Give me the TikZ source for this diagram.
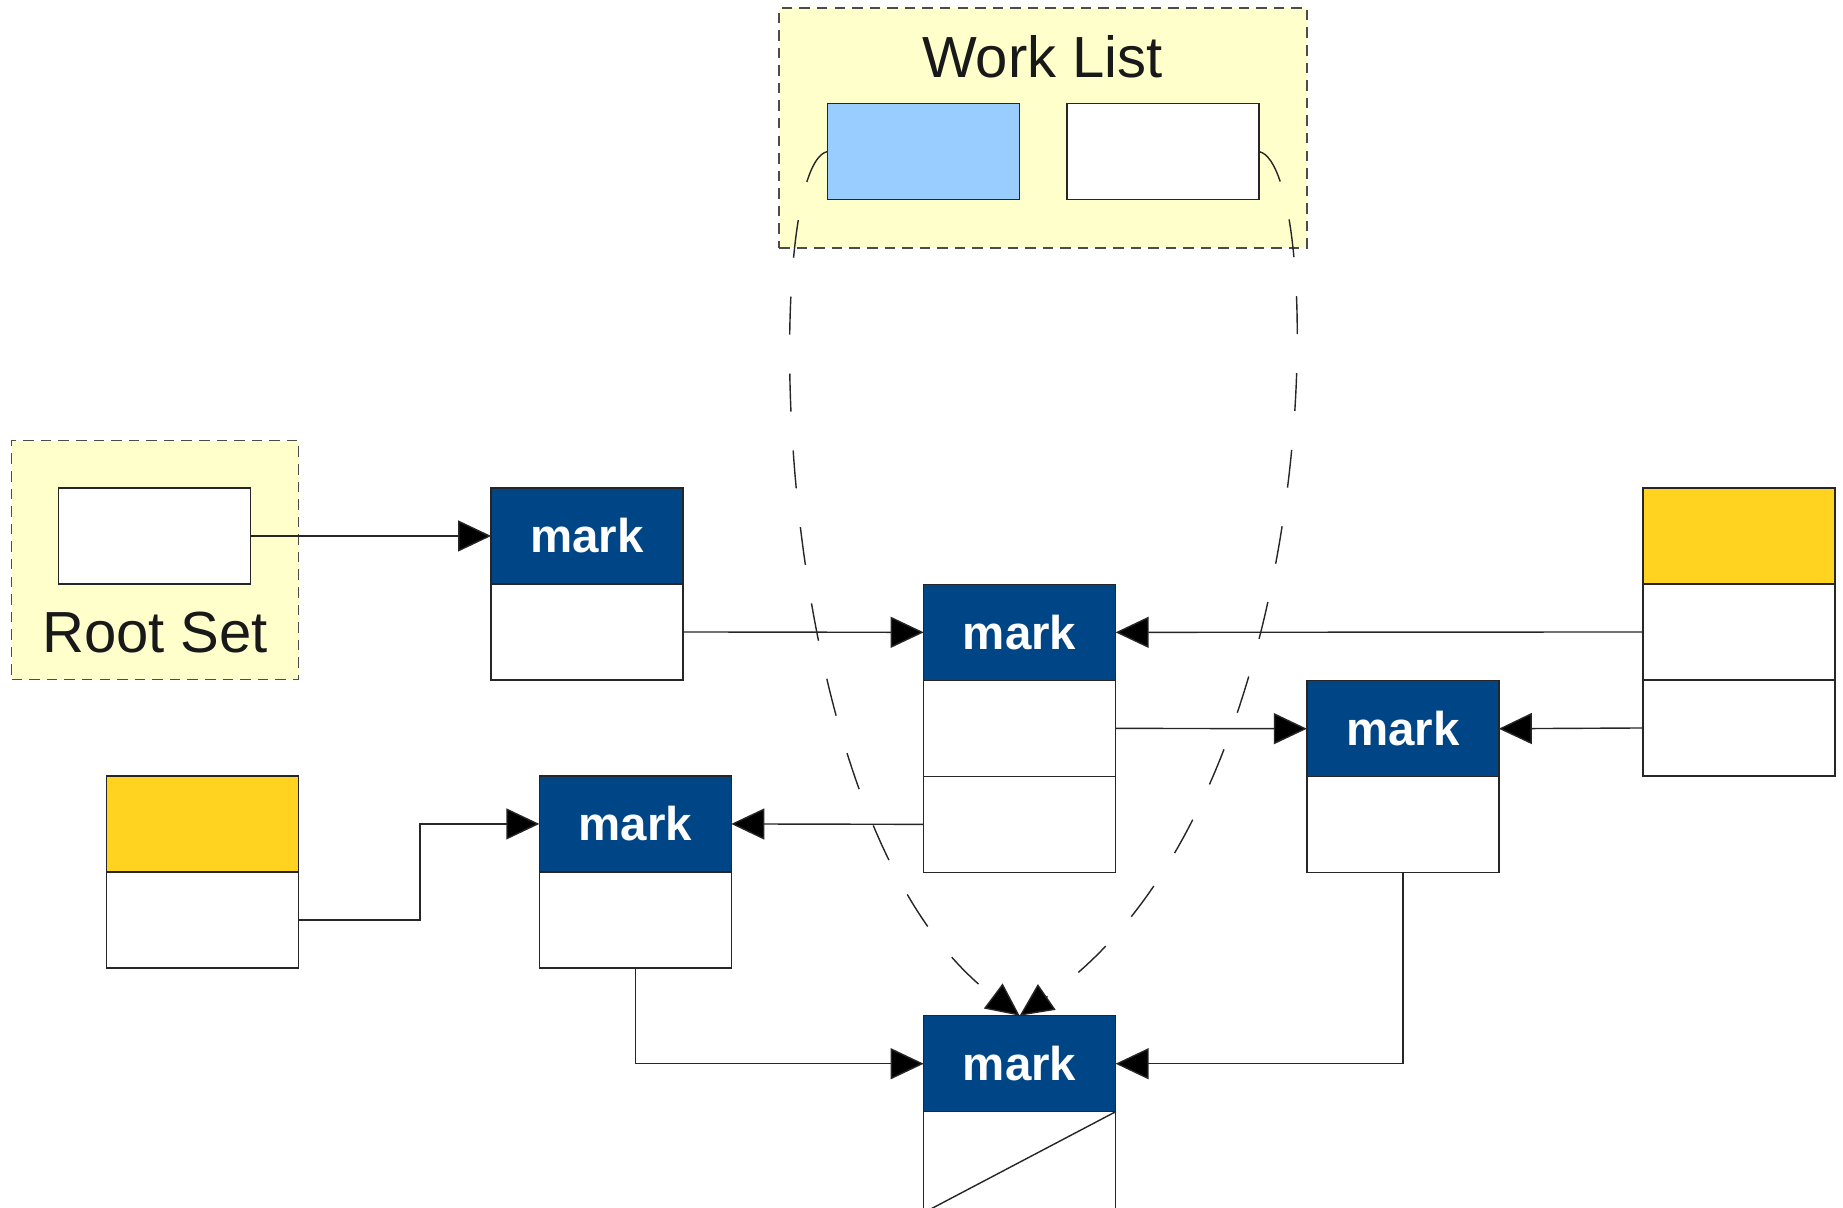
\documentclass[tikz,border=0pt]{standalone}
\usepackage{fontspec}
\setmainfont{Liberation Sans}
\usetikzlibrary{arrows.meta, positioning}

\definecolor{markblue}{HTML}{004586}
\definecolor{hdryellow}{HTML}{FFD320}
\definecolor{paleyellow}{HTML}{FFFFCC}
\definecolor{lightblue}{HTML}{99CCFF}

\begin{document}
\begin{tikzpicture}[
    x=0.11754mm, y=-0.11754mm,
    cell/.style={rectangle, draw=black!85, line width=0.4pt, fill=white,
                minimum width=19.2mm, minimum height=9.6mm,
                inner sep=0pt, outer sep=0pt},
    markcell/.style={cell, fill=markblue, text=white,
                font=\fontsize{13.5}{16}\selectfont\bfseries},
    hdrcell/.style={cell, fill=hdryellow},
    group/.style={rectangle, draw=black!70, densely dashed, line width=0.4pt,
                fill=paleyellow, inner sep=0pt},
    grouptitle/.style={font=\fontsize{16.5}{20}\selectfont, text=black!90},
    arrow/.style={-{Triangle[length=3.3mm, width=3.1mm, fill=black]},
                draw=black!85, line width=0.4pt},
    dasharrow/.style={arrow, dash pattern=on 3.8mm off 3.9mm}
]
\useasboundingbox (0,0) rectangle (1568,1027);

%% WORK LIST
\node[group, minimum width=52.8mm, minimum height=24mm] (wl_box) at (887.5,109) {};
\node[grouptitle] (wl_title) at (887,48) {Work List};
\node[cell, fill=lightblue] (wl_a) at (785.5,129) {};
\node[cell] (wl_b) at (989.5,129) {};

%% ROOT SET
\node[group, minimum width=28.7mm, minimum height=23.9mm] (rs_box) at (132,476.5) {};
\node[cell] (rs_cell) at (131.5,456) {};
\node[grouptitle] (rs_title) at (132,538) {Root Set};

%% OBJECTS
\node[markcell] (a_mark) at (499.5,456) {mark};
\node[cell, below=0pt of a_mark] (a_f1) {};

\node[markcell] (b_mark) at (867.5,538) {mark};
\node[cell, below=0pt of b_mark] (b_f1) {};
\node[cell, below=0pt of b_f1] (b_f2) {};

\node[markcell] (c_mark) at (1193.5,620) {mark};
\node[cell, below=0pt of c_mark] (c_f1) {};

\node[markcell] (d_mark) at (540.5,701) {mark};
\node[cell, below=0pt of d_mark] (d_f1) {};

\node[markcell] (e_mark) at (867.5,905) {mark};
\node[cell, minimum height=10.1mm, below=0pt of e_mark] (e_f1) {};
\draw[draw=black!85, line width=0.4pt] (e_f1.north east) -- (e_f1.south west);

%% UNMARKED
\node[hdrcell] (r_hdr) at (1479.5,456) {};
\node[cell, below=0pt of r_hdr] (r_f1) {};
\node[cell, below=0pt of r_f1] (r_f2) {};

\node[hdrcell] (l_hdr) at (172.5,701) {};
\node[cell, below=0pt of l_hdr] (l_f1) {};

%% POINTERS
\draw[arrow] (rs_cell.east) -- (a_mark.west);
\draw[arrow] (a_f1.east) -- (b_mark.west);
\draw[arrow] (r_f1.west) -- (b_mark.east);
\draw[arrow] (b_f1.east) -- (c_mark.west);
\draw[arrow] (r_f2.west) -- (c_mark.east);
\draw[arrow] (b_f2.west) -- (d_mark.east);
\draw[arrow] (l_f1.east) -- ++(103,0) |- (d_mark.west);
\draw[arrow] (d_f1.south) |- (e_mark.west);
\draw[arrow] (c_f1.south) |- (e_mark.east);

%% WORK LIST ENTRIES
\draw[dasharrow] (wl_a.west) .. controls (648,140) and (648,700) .. (e_mark.north);
\draw[dasharrow] (wl_b.east) .. controls (1128,140) and (1134,680) .. (e_mark.north);

\end{tikzpicture}
\end{document}
